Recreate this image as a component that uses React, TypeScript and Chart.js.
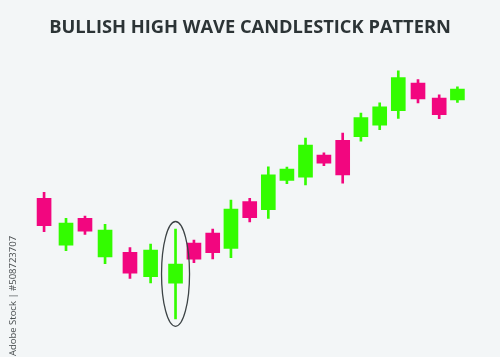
import React, { useEffect, useRef } from "react";
import { Chart, registerables } from "chart.js";

Chart.register(...registerables);

// Session positions (slot units)
const positions = [0, 1.18, 2.2, 3.28, 4.62, 5.73, 7.07, 8.06, 9.07, 10.05, 11.06, 12.06, 13.06, 14.06, 15.05, 16.06, 17.04, 18.05, 19.05, 20.11, 21.25, 22.23];
const opens = [70.8, 47.4, 60.8, 41.5, 43.8, 31.6, 28.4, 48.4, 53.4, 45.8, 69.2, 65.2, 79.8, 81.4, 92.5, 99.8, 101.6, 107.4, 114.6, 128.5, 121, 120];
const closes = [57.2, 58.4, 54.4, 55, 33.4, 45, 38, 40.4, 43.6, 65.5, 61.2, 82.6, 85.4, 97.5, 88.4, 82.5, 111.2, 116.6, 131.2, 120.5, 112.6, 125.5];
const highs = [73.8, 60.8, 62, 57.8, 46.2, 48, 55.5, 50, 55.5, 70, 70.8, 86.6, 86.5, 101, 93.6, 103.5, 113.4, 118.6, 134.6, 130.2, 122.6, 126.6];
const lows = [54.2, 44.6, 52.8, 38.2, 30.8, 28.5, 10.6, 38.6, 40.5, 41.2, 59, 60.8, 78.2, 77.5, 87.2, 78.4, 99.4, 105.2, 110.8, 118.5, 110.6, 118.8];
const highlightIndex = 6;

const titleText = "BULLISH HIGH WAVE CANDLESTICK PATTERN";
const creditText = "Adobe Stock | #508723707";

const UP = "#33fc00";
const DOWN = "#f2067f";
const BG = "#f3f6f7";

const ellipsePlugin = {
  id: "highlightEllipse",
  afterDatasetsDraw(chart: any) {
    const xs = chart.scales.x;
    const ys = chart.scales.y;
    const ctx = chart.ctx;
    const cx = xs.getPixelForValue(positions[highlightIndex]);
    const top = ys.getPixelForValue(highs[highlightIndex]);
    const bot = ys.getPixelForValue(lows[highlightIndex]);
    ctx.save();
    ctx.beginPath();
    ctx.ellipse(cx, (top + bot) / 2, 14, (bot - top) / 2 + 7.5, 0, 0, Math.PI * 2);
    ctx.strokeStyle = "#3c4345";
    ctx.lineWidth = 1.3;
    ctx.stroke();
    ctx.restore();
  },
};

const creditPlugin = {
  id: "credit",
  afterDraw(chart: any) {
    const ctx = chart.ctx;
    ctx.save();
    ctx.translate(15.5, 296);
    ctx.rotate(-Math.PI / 2);
    ctx.font = "9.5px 'Open Sans'";
    ctx.fillStyle = "#4a4f51";
    ctx.textAlign = "center";
    ctx.textBaseline = "alphabetic";
    ctx.fillText(creditText, 0, 0);
    ctx.restore();
  },
};

export default function App() {
  const ref = useRef<HTMLCanvasElement>(null);
  useEffect(() => {
    document.body.style.margin = "0";
    document.body.style.background = BG;
    const colors = opens.map((o, i) => (closes[i] >= o ? UP : DOWN));
    const chart = new Chart(ref.current!, {
      type: "bar",
      data: {
        datasets: [
          {
            label: "Bodies",
            data: positions.map((x, i) => ({ x, y: [opens[i], closes[i]] })) as any,
            backgroundColor: colors,
            borderWidth: 0,
            barThickness: 14,
            grouped: false,
            order: 1,
          },
          {
            label: "Wicks",
            data: positions.map((x, i) => ({ x, y: [lows[i], highs[i]] })) as any,
            backgroundColor: colors,
            borderWidth: 0,
            barThickness: 2,
            grouped: false,
            order: 2,
          },
        ],
      },
      options: {
        animation: false,
        responsive: true,
        maintainAspectRatio: false,
        layout: { padding: 0 },
        plugins: {
          legend: { display: false },
          tooltip: { enabled: false },
          title: {
            display: true,
            text: titleText,
            color: "#2c3436",
            font: { family: "'Open Sans'", size: 18.3, weight: "bold", lineHeight: 1.2 },
            padding: { top: 16.6, bottom: 0 },
          },
        },
        scales: {
          x: { type: "linear", display: false, offset: false, min: -2.37, max: 24.52 },
          y: { display: false, min: -8.5, max: 150.7 },
        },
      },
      plugins: [ellipsePlugin, creditPlugin],
    });
    return () => chart.destroy();
  }, []);
  return (
    <div style={{ position: "fixed", left: 0, top: 0, width: 500, height: 357, background: BG }}>
      <canvas ref={ref} />
    </div>
  );
}
